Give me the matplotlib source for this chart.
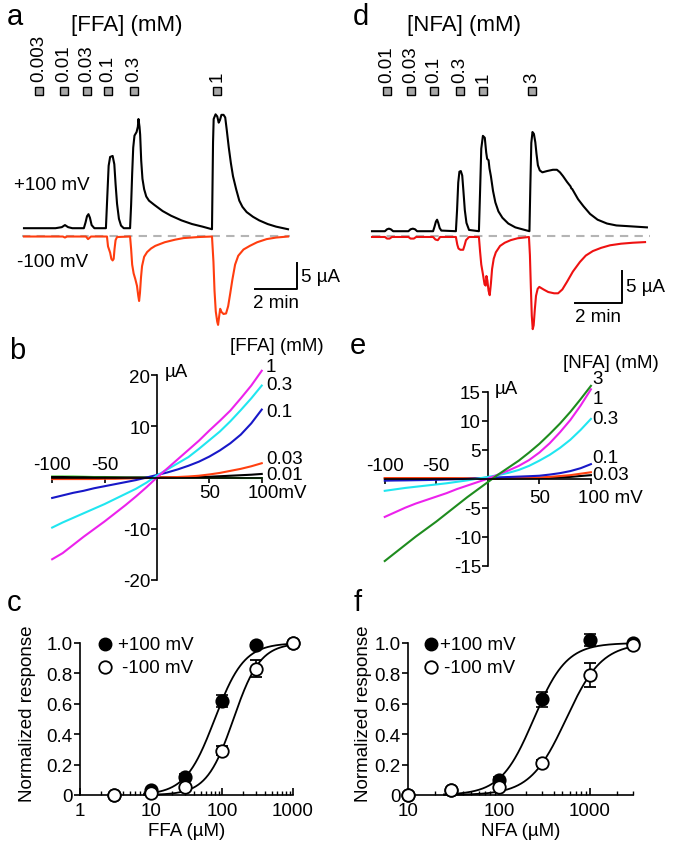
import numpy as np
import matplotlib
matplotlib.use('Agg')
import matplotlib.pyplot as plt
from matplotlib.ticker import NullFormatter, LogLocator, FuncFormatter

plt.rcParams['font.family'] = ['Liberation Sans', 'DejaVu Sans']
plt.rcParams['font.size'] = 13.5
plt.rcParams['axes.linewidth'] = 1.2

# ---------------- data ----------------
# panel a: FFA current traces (time min, current uA)
ffa_pos_trace = [(0,1.5),(1.5,1.5),(1.8,1.7),(1.95,2.1),(2.1,1.7),(2.3,1.5),(2.85,1.5),(2.93,2.6),(3.0,3.8),(3.07,4.2),
    (3.14,3.5),(3.22,2.1),(3.35,1.5),(3.9,1.5),(3.97,8),(4.03,13.5),(4.1,15.2),(4.22,15.4),(4.3,13.8),(4.36,10),(4.43,6.2),
    (4.52,3.3),(4.62,2.0),(4.75,1.5),(5.05,1.5),(5.1,6),(5.15,12),(5.2,17),(5.26,19.3),(5.36,20.0),(5.42,21.0),(5.45,22.5),
    (5.5,21.0),(5.53,19.5),(5.58,14.5),(5.64,11.0),(5.72,9.0),(5.82,7.6),(5.95,6.8),(6.2,6.0),(6.6,4.8),(7.0,3.9),(7.5,3.0),
    (8.0,2.3),(8.5,1.8),(8.95,1.3),(9.0,18),(9.03,22.5),(9.12,23.4),(9.2,23.0),(9.27,21.8),(9.33,22.3),(9.4,23.3),(9.5,23.3),
    (9.58,22.8),(9.65,20.5),(9.75,17.0),(9.85,14.0),(9.95,11.5),(10.1,9.0),(10.25,6.8),(10.4,5.6),(10.6,4.6),(10.9,3.7),
    (11.2,3.0),(11.6,2.3),(12.0,1.8),(12.57,1.3)]
ffa_neg_trace = [(0,-0.1),(1.85,-0.1),(1.95,-0.3),(2.05,-0.1),(2.95,-0.1),(3.05,-0.6),(3.19,-0.1),(3.95,-0.1),(4.0,-2.0),
    (4.05,-2.6),(4.1,-3.2),(4.16,-4.4),(4.22,-4.7),(4.27,-4.4),(4.31,-2.5),(4.36,-0.8),(4.43,-0.2),(5.05,-0.1),(5.1,-2.5),
    (5.15,-5.5),(5.22,-7.2),(5.3,-8.3),(5.38,-9.6),(5.44,-11.5),(5.48,-12.5),(5.52,-11.0),(5.57,-8.0),(5.62,-5.8),(5.72,-4.0),
    (5.86,-3.1),(6.05,-2.4),(6.25,-1.9),(6.7,-1.2),(7.2,-0.7),(7.6,-0.4),(8.3,-0.2),(8.95,-0.1),(9.02,-5),(9.07,-10.5),
    (9.13,-14.5),(9.2,-16.5),(9.24,-17.1),(9.29,-15.5),(9.34,-14.0),(9.4,-14.6),(9.5,-15.0),(9.62,-14.9),(9.72,-13.5),
    (9.82,-11.0),(9.92,-8.4),(10.05,-5.5),(10.2,-3.8),(10.45,-2.6),(10.75,-1.9),(11.1,-1.2),(11.55,-0.6),(12.0,-0.3),(12.57,-0.1)]
ffa_app_times = [0.71, 1.90, 3.0, 4.0, 5.24, 9.19]
ffa_app_labels = ['0.003', '0.01', '0.03', '0.1', '0.3', '1']

# panel d: NFA current traces
nfa_pos_trace = [(0,0.7),(0.55,0.7),(0.64,1.0),(0.72,1.1),(0.8,1.0),(0.9,0.7),(1.55,0.7),(1.64,1.0),(1.74,1.1),(1.83,1.0),
    (1.92,0.7),(2.6,0.7),(2.66,1.4),(2.72,2.2),(2.77,2.5),(2.82,2.0),(2.88,1.2),(2.95,0.8),(3.57,0.7),(3.62,4),(3.67,8.3),
    (3.72,10.0),(3.78,10.1),(3.84,9.4),(3.89,7.0),(3.95,4.0),(4.02,2.0),(4.13,0.9),(4.55,0.7),(4.6,7),(4.65,13.6),(4.72,15.6),
    (4.8,15.3),(4.86,13.0),(4.9,12.0),(4.96,11.8),(5.0,10.5),(5.06,9.3),(5.15,7.0),(5.25,5.2),(5.38,3.8),(5.55,2.8),(5.8,1.9),
    (6.1,1.3),(6.4,1.0),(6.7,0.7),(6.74,8),(6.78,14.5),(6.83,16.2),(6.89,15.9),(6.95,14.6),(7.0,12.8),(7.06,11.0),(7.14,10.2),
    (7.25,9.9),(7.45,10.1),(7.7,10.3),(7.87,10.3),(8.0,9.9),(8.13,9.3),(8.3,8.4),(8.45,7.7),(8.48,7.4),(8.52,7.3),(8.77,5.7),
    (9.0,4.6),(9.28,3.4),(9.6,2.5),(10.0,1.9),(10.4,1.6),(10.85,1.5),(11.7,1.3)]
nfa_neg_trace = [(0,-0.2),(0.55,-0.2),(0.64,-0.45),(0.75,-0.45),(0.85,-0.2),(1.55,-0.2),(1.64,-0.45),(1.78,-0.45),(1.88,-0.2),
    (2.6,-0.2),(2.7,-0.6),(2.8,-0.7),(2.9,-0.2),(3.57,-0.2),(3.63,-1.4),(3.68,-2.0),(3.76,-2.2),(3.88,-2.2),(3.94,-1.5),(4.0,-0.7),
    (4.13,-0.2),(4.55,-0.2),(4.6,-2.5),(4.65,-4.5),(4.72,-6.0),(4.79,-7.6),(4.84,-7.8),(4.87,-6.3),(4.91,-7.0),(4.96,-8.6),
    (5.01,-9.3),(5.06,-7.5),(5.11,-5.2),(5.18,-3.6),(5.27,-2.6),(5.45,-1.6),(5.65,-1.1),(5.9,-0.7),(6.2,-0.4),(6.68,-0.2),
    (6.72,-3),(6.76,-8.0),(6.8,-12.5),(6.84,-14.6),(6.88,-14.0),(6.93,-11.5),(6.98,-9.4),(7.05,-8.3),(7.12,-8.0),(7.3,-8.4),
    (7.5,-8.8),(7.75,-9.0),(7.92,-9.0),(8.1,-8.4),(8.3,-7.2),(8.55,-5.6),(8.85,-4.1),(9.1,-3.1),(9.4,-2.4),(9.75,-1.9),
    (10.13,-1.5),(10.6,-1.25),(11.1,-1.1),(11.62,-1.0)]
nfa_app_times = [0.64, 1.64, 2.64, 3.74, 4.72, 6.81]
nfa_app_labels = ['0.01', '0.03', '0.1', '0.3', '1', '3']

# panel b / e: I-V curves (mV, uA)
volts = [-100,-90,-80,-70,-60,-50,-40,-30,-20,-10,0,10,20,30,40,50,60,70,80,90,100]
ffa_iv = {
    '0.01':  [0.2,0.2,0.2,0.15,0.1,0.1,0.05,0.0,0.0,0.0,0.0,0.0,0.0,0.0,0.0,-0.05,-0.05,-0.05,-0.1,-0.1,-0.1],
    'ctrl':  [0.1,0.1,0.05,0.05,0.0,0.0,0.0,0.0,0.0,0.0,0.0,0.02,0.04,0.06,0.1,0.15,0.25,0.35,0.45,0.55,0.7],
    '0.03':  [-0.3,-0.3,-0.3,-0.3,-0.3,-0.25,-0.25,-0.2,-0.15,-0.1,0.0,0.05,0.1,0.2,0.35,0.6,0.9,1.3,1.7,2.2,2.8],
    '0.1':   [-4.0,-3.5,-3.0,-2.6,-2.1,-1.7,-1.3,-0.9,-0.5,0.0,0.5,1.0,1.6,2.3,3.1,4.1,5.3,6.7,8.4,10.6,13.3],
    '0.3':   [-9.8,-8.8,-7.9,-7.0,-6.1,-5.2,-4.2,-3.2,-2.2,-1.0,0.4,1.6,2.8,4.0,5.6,7.3,9.0,11.0,13.2,15.5,18.0],
    '1':     [-16.0,-14.8,-13.2,-11.6,-10.1,-8.6,-7.0,-5.4,-3.7,-1.9,0.0,1.8,3.6,5.4,7.2,9.2,11.1,13.1,15.5,18.0,20.9],
}
nfa_iv = {
    '0.01':  [0.0,0.0,0.0,0.0,0.0,0.0,0.0,0.0,0.0,0.0,0.0,0.0,0.02,0.04,0.06,0.1,0.15,0.22,0.3,0.45,0.6],
    '0.03':  [0.1,0.1,0.1,0.1,0.1,0.1,0.1,0.08,0.06,0.05,0.05,0.08,0.1,0.13,0.16,0.2,0.3,0.45,0.6,0.85,1.1],
    '0.1':   [-0.35,-0.32,-0.3,-0.27,-0.24,-0.2,-0.15,-0.1,-0.05,0.05,0.15,0.22,0.28,0.35,0.42,0.5,0.7,0.95,1.3,1.8,2.5],
    '0.3':   [-2.1,-1.85,-1.6,-1.4,-1.2,-1.0,-0.8,-0.55,-0.3,0.0,0.3,0.6,1.0,1.5,2.2,3.1,4.1,5.3,6.7,8.4,10.3],
    '1':     [-6.6,-5.8,-5.0,-4.3,-3.7,-3.1,-2.5,-1.8,-1.2,-0.6,0.0,0.7,1.4,2.2,3.2,4.5,6.1,8.0,10.1,12.6,15.4],
    '3':     [-14.2,-12.8,-11.4,-10.0,-8.7,-7.4,-6.0,-4.6,-3.2,-1.9,-0.6,0.7,1.9,3.1,4.5,6.0,7.7,9.5,11.5,13.7,16.0],
}

# panel c / f: dose-response (uM, normalized)
ffa_conc = [3, 10, 30, 100, 300, 1000]
ffa_pos_mean = [0.0, 0.03, 0.12, 0.62, 0.99, 1.0]
ffa_pos_err  = [0.0, 0.01, 0.02, 0.04, 0.01, 0.0]
ffa_neg_mean = [0.0, 0.01, 0.05, 0.29, 0.83, 1.0]
ffa_neg_err  = [0.0, 0.0, 0.01, 0.03, 0.055, 0.0]
ffa_fit = {'pos': (79, 2.1), 'neg': (145, 2.3)}   # EC50 (uM), Hill n

nfa_conc = [10, 30, 100, 300, 1000, 3000]
nfa_pos_mean = [0.0, 0.03, 0.10, 0.63, 1.02, 1.0]
nfa_pos_err  = [0.0, 0.01, 0.02, 0.05, 0.04, 0.0]
nfa_neg_mean = [0.0, 0.03, 0.05, 0.21, 0.79, 0.99]
nfa_neg_err  = [0.0, 0.01, 0.01, 0.02, 0.08, 0.0]
nfa_fit = {'pos': (242, 2.4), 'neg': (550, 2.2)}

# ---------------- layout helpers ----------------
W, H = 677, 862
fig = plt.figure(figsize=(W/100, H/100), dpi=100)

def box(x0, y0, x1, y1):
    return [x0/W, 1-y1/H, (x1-x0)/W, (y1-y0)/H]

def ftext(x, y, s, **kw):
    fig.text(x/W, 1-y/H, s, **kw)

# ---------------- trace panels ----------------
def trace_panel(rect, xlim, ylim, pos, neg, red, app_t, app_lab, app_y, lab_y, dash, sb_x, sb_y, sb_h):
    ax = fig.add_axes(rect)
    ax.set_xlim(*xlim); ax.set_ylim(*ylim); ax.axis('off')
    ax.plot(dash, [0, 0], color='#b4b4b4', lw=1.5, ls=(0, (4, 3)))
    p = np.array(pos); n = np.array(neg)
    ax.plot(p[:, 0], p[:, 1], color='black', lw=1.5, solid_joinstyle='round')
    ax.plot(n[:, 0], n[:, 1], color=red, lw=1.5, solid_joinstyle='round')
    ax.plot(app_t, [app_y]*len(app_t), ls='none', marker='s', ms=6, mfc='#a8a8a8', mec='black', mew=1.0)
    for t, s in zip(app_t, app_lab):
        ax.text(t, lab_y, s, rotation=90, ha='center', va='bottom', fontsize=13.5)
    # scale bars: 5 uA, 2 min
    ax.plot([sb_x - 2, sb_x, sb_x], [sb_y, sb_y, sb_y + sb_h], color='black', lw=1.4)
    return ax

axa = trace_panel(box(20, 0, 300, 340), (-0.19, 13.14), (-19.81, 45.58), ffa_pos_trace, ffa_neg_trace,
                  '#ff3d0f', ffa_app_times, ffa_app_labels, 27.9, 29.9, (-0.1, 12.67), 13.0, -10.19, 5)
axd = trace_panel(box(345, 0, 677, 340), (-1.149, 12.98), (-16.14, 36.98), nfa_pos_trace, nfa_neg_trace,
                  '#ee1111', nfa_app_times, nfa_app_labels, 22.6, 24.0, (0, 11.83), 10.64, -10.52, 5)

ftext(15, 17, 'a', fontsize=21, ha='center', va='center')
ftext(361, 17, 'd', fontsize=21, ha='center', va='center')
ftext(127, 25, '[FFA] (mM)', fontsize=16, ha='center', va='center')
ftext(464, 25, '[NFA] (mM)', fontsize=16, ha='center', va='center')
ftext(14, 185, '+100 mV', ha='left', va='center')
ftext(17, 263, '-100 mV', ha='left', va='center')
ftext(301, 277, '5 µA', ha='left', va='center')
ftext(276, 303, '2 min', ha='center', va='center')
ftext(626, 288, '5 µA', ha='left', va='center')
ftext(598, 318, '2 min', ha='center', va='center')

# ---------------- I-V panels ----------------
def iv_panel(rect, xlim, ylim, ybound, yticks, curves, colors, order):
    ax = fig.add_axes(rect)
    ax.set_xlim(*xlim); ax.set_ylim(*ylim)
    for k in order:
        ax.plot(volts, curves[k], color=colors[k], lw=1.5)
    for s in ['top', 'right']:
        ax.spines[s].set_visible(False)
    ax.spines['left'].set_position(('data', 0))
    ax.spines['bottom'].set_position(('data', 0))
    ax.spines['left'].set_bounds(*ybound)
    ax.spines['bottom'].set_bounds(-100, 100)
    ax.spines['left'].set_zorder(0.5)
    ax.patch.set_visible(False)
    ax.set_yticks(yticks)
    ax.set_yticklabels([str(v) for v in yticks])
    ax.set_xticks([-100, -50, 50, 100])
    ax.set_xticklabels([])
    ax.tick_params(axis='y', direction='out', length=4, width=1.2, pad=1, labelsize=13.5)
    ax.tick_params(axis='x', direction='out', length=3.5, width=1.2)
    return ax

ffa_colors = {'0.01': '#3ccc2a', 'ctrl': 'black', '0.03': '#ff4010', '0.1': '#1818c8', '0.3': '#20e6f0', '1': '#ec22ec'}
axb = iv_panel(box(40, 360, 300, 595), (-111.6, 136.5), (-22.8, 23.2), (-20, 20), [-20, -10, 10, 20],
               ffa_iv, ffa_colors, ['0.01', 'ctrl', '0.03', '0.1', '0.3', '1'])
for s, y in [('1', 21.7), ('0.3', 18.3), ('0.1', 13.0), ('0.03', 3.8), ('0.01', 0.6)]:
    axb.text(104, y, s, ha='left', va='center')
axb.text(-100, 2.6, '-100', ha='center', va='center')
axb.text(-50, 2.6, '-50', ha='center', va='center')
axb.text(50, -2.85, '50', ha='center', va='center')
axb.text(86.5, -2.85, '100mV', ha='left', va='center')
axb.text(7.6, 20.7, 'µA', ha='left', va='center')
axb.text(114.5, 25.8, '[FFA] (mM)', ha='center', va='center')
ftext(17, 351, 'b', fontsize=21, ha='center', va='center')

nfa_colors = {'0.01': 'black', '0.03': '#ff4010', '0.1': '#1818c8', '0.3': '#20e6f0', '1': '#ec22ec', '3': '#1e8c1e'}
axe = iv_panel(box(370, 370, 670, 580), (-114.3, 176.7), (-17.3, 18.9), (-15, 15), [-15, -10, -5, 5, 10, 15],
               nfa_iv, nfa_colors, ['0.01', '0.03', '0.1', '0.3', '1', '3'])
for s, y in [('3', 17.2), ('1', 13.9), ('0.3', 10.4), ('0.1', 3.7), ('0.03', 0.8)]:
    axe.text(101.5, y, s, ha='left', va='center')
axe.text(-100, 2.2, '-100', ha='center', va='center')
axe.text(-50, 2.2, '-50', ha='center', va='center')
axe.text(50, -3.2, '50', ha='center', va='center')
axe.text(87.6, -3.2, '100 mV', ha='left', va='center')
axe.text(6.7, 15.6, 'µA', ha='left', va='center')
axe.text(119, 20.1, '[NFA] (mM)', ha='center', va='center')
ftext(358, 346, 'e', fontsize=21, ha='center', va='center')

# ---------------- dose-response panels ----------------
def hill(c, ec50, n):
    c = np.asarray(c, float)
    return 1.0 / (1.0 + (ec50 / c) ** n)

def dr_panel(rect, xlim, conc, pm, pe, nm, ne, fit, fit_range, xlabel, leg_x, leg_tx):
    ax = fig.add_axes(rect)
    ax.set_xscale('log')
    ax.set_xlim(*xlim); ax.set_ylim(0, 1.0)
    xs = np.logspace(np.log10(fit_range[0]), np.log10(fit_range[1]), 300)
    ax.plot(xs, hill(xs, *fit['pos']), color='black', lw=1.3, clip_on=False)
    ax.plot(xs, hill(xs, *fit['neg']), color='black', lw=1.3, clip_on=False)
    ax.errorbar(conc, pm, yerr=pe, fmt='o', ms=9, mfc='black', mec='black', mew=1.2, ecolor='black',
                elinewidth=1.2, capsize=4.5, capthick=1.2, clip_on=False, zorder=3)
    ax.errorbar(conc, nm, yerr=ne, fmt='o', ms=9, mfc='white', mec='black', mew=1.3, ecolor='black',
                elinewidth=1.2, capsize=4.5, capthick=1.2, clip_on=False, zorder=4)
    for s in ['top', 'right']:
        ax.spines[s].set_visible(False)
    ax.set_yticks([0, 0.2, 0.4, 0.6, 0.8, 1.0])
    ax.set_yticklabels(['0', '0.2', '0.4', '0.6', '0.8', '1.0'])
    ax.xaxis.set_major_locator(LogLocator(base=10, numticks=10))
    ax.xaxis.set_minor_locator(LogLocator(base=10, subs=np.arange(2, 10), numticks=10))
    ax.xaxis.set_minor_formatter(NullFormatter())
    ax.xaxis.set_major_formatter(FuncFormatter(lambda v, p: '%d' % round(v)))
    ax.tick_params(axis='y', direction='out', length=4, width=1.2, pad=1.5, labelsize=13.5)
    ax.tick_params(axis='x', which='major', direction='in', length=5, width=1.2, pad=5, labelsize=13.5)
    ax.tick_params(axis='x', which='minor', direction='in', length=3, width=1.0)
    ax.set_xlabel(xlabel, fontsize=13.5, labelpad=2)
    # legend
    ax.plot([leg_x], [0.993], 'o', ms=9, mfc='black', mec='black', transform=ax.transAxes, clip_on=False)
    ax.plot([leg_x], [0.842], 'o', ms=9, mfc='white', mec='black', mew=1.3, transform=ax.transAxes, clip_on=False)
    ax.text(leg_tx[0], 0.993, '+100 mV', transform=ax.transAxes, ha='left', va='center')
    ax.text(leg_tx[1], 0.842, '-100 mV', transform=ax.transAxes, ha='left', va='center')
    return ax

axc = dr_panel(box(80, 644, 293, 796), (1, 1000), ffa_conc, ffa_pos_mean, ffa_pos_err, ffa_neg_mean, ffa_neg_err,
               ffa_fit, (8, 1000), 'FFA (µM)', 0.117, (0.178, 0.196))
axf = dr_panel(box(408, 644, 633, 796), (10, 3000), nfa_conc, nfa_pos_mean, nfa_pos_err, nfa_neg_mean, nfa_neg_err,
               nfa_fit, (25, 3000), 'NFA (µM)', 0.102, (0.142, 0.16))

ftext(28, 714, 'Normalized response', rotation=90, ha='center', va='center')
ftext(364, 714, 'Normalized response', rotation=90, ha='center', va='center')
ftext(14, 603, 'c', fontsize=21, ha='center', va='center')
ftext(358, 603, 'f', fontsize=21, ha='center', va='center')

fig.savefig('out.png', dpi=100)
